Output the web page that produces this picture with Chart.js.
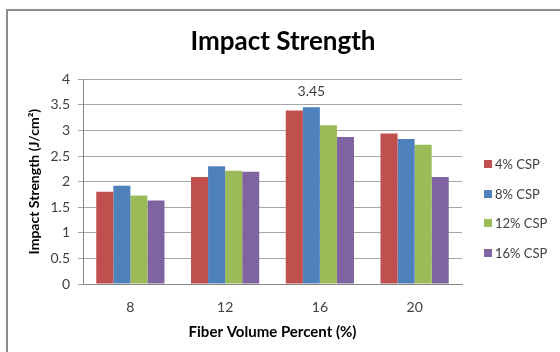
<!DOCTYPE html>
<html>
<head>
<meta charset="utf-8">
<script src="https://cdn.jsdelivr.net/npm/chart.js@4"></script>
<style>
	body { margin: 0; background: #fff; }
	#wrap { position: relative; width: 560px; height: 352px; overflow: hidden; }
	#frame {
		position: absolute; left: 6px; top: 9px; width: 560px; height: 352px;
		border-top: 2px solid #8c8c8c; border-left: 2px solid #8c8c8c;
	}
	#chart { position: absolute; left: 0; top: 0; }
	#legend { position: absolute; left: 484px; top: 156px; font: 13px Lato, sans-serif; color: #404040; }
	#legend div { height: 29.7px; display: flex; align-items: flex-start; }
	#legend span.box { display: inline-block; width: 8px; height: 8px; margin: 4px 3px 0 0; }
</style>
</head>
<body>
<div id="wrap">
	<div id="frame"></div>
	<canvas id="chart" width="560" height="352"></canvas>
	<div id="legend"></div>
</div>
<script>
const categories = ["8", "12", "16", "20"];
const seriesNames = ["4% CSP", "8% CSP", "12% CSP", "16% CSP"];
const csp4 = [1.8, 2.09, 3.39, 2.94];
const csp8 = [1.92, 2.3, 3.45, 2.83];
const csp12 = [1.73, 2.21, 3.1, 2.72];
const csp16 = [1.63, 2.19, 2.87, 2.09];
const colors = ["#c0504d", "#4f81bd", "#9bbb59", "#8064a2"];

document.addEventListener("DOMContentLoaded", () => {
	let values = [csp4, csp8, csp12, csp16];

	// label over the tallest bar (8% CSP at 16)
	let peakLabel = {
		id: "peakLabel",
		afterDatasetsDraw(chart) {
			let bar = chart.getDatasetMeta(1).data[2];
			let ctx = chart.ctx;
			ctx.save();
			ctx.font = "14px Lato, sans-serif";
			ctx.fillStyle = "#404040";
			ctx.textAlign = "center";
			ctx.textBaseline = "alphabetic";
			ctx.fillText(csp8[2].toFixed(2), bar.x, bar.y - 11);
			ctx.restore();
		},
	};

	let ctx = document.getElementById("chart").getContext("2d");
	let ImpactChart = new Chart(ctx, {
		type: "bar",
		data: {
			labels: categories,
			datasets: seriesNames.map((name, i) => ({
				label: name,
				data: values[i],
				backgroundColor: colors[i],
				borderWidth: 0,
				barPercentage: 1,
				categoryPercentage: 0.72,
			})),
		},
		options: {
			responsive: false,
			animation: false,
			layout: { padding: { left: 6, right: 0, top: 26, bottom: 11 } },
			plugins: {
				legend: { display: false },
				tooltip: { enabled: false },
				title: {
					display: true,
					text: "Impact Strength",
					font: { family: "Lato", size: 26, weight: "bold" },
					color: "#000",
					padding: { top: 0, bottom: 22 },
				},
			},
			scales: {
				x: {
					afterFit(scale) {
						scale.height = 57;
					},
					grid: { display: false, drawTicks: false },
					border: { color: "#868686" },
					ticks: { font: { family: "Lato", size: 14 }, color: "#404040", padding: 15 },
					title: {
						display: true,
						text: "Fiber Volume Percent (%)",
						font: { family: "Lato", size: 15, weight: "bold" },
						color: "#000",
						padding: { top: 0, bottom: 0 },
					},
				},
				y: {
					min: 0,
					max: 4,
					afterFit(scale) {
						scale.width = 77;
					},
					ticks: {
						stepSize: 0.5,
						font: { family: "Lato", size: 14 },
						color: "#404040",
						padding: 8,
						callback: (v) => String(v),
					},
					grid: { color: "#a6a6a6", tickLength: 5 },
					border: { color: "#868686" },
					title: {
						display: true,
						text: "Impact Strength (J/cm²)",
						font: { family: "Lato", size: 14, weight: "bold" },
						color: "#000",
						padding: { top: 20, bottom: 4 },
					},
				},
				// empty strip on the right that leaves room for the legend
				side: {
					position: "right",
					grid: { display: false },
					border: { display: false },
					ticks: { display: false },
					afterFit(scale) {
						scale.width = 98;
					},
				},
			},
		},
		plugins: [peakLabel],
	});

	let legend = document.getElementById("legend");
	seriesNames.forEach((name, i) => {
		let row = document.createElement("div");
		row.innerHTML = '<span class="box" style="background:' + colors[i] + '"></span>' + name;
		legend.appendChild(row);
	});
});
</script>
</body>
</html>
